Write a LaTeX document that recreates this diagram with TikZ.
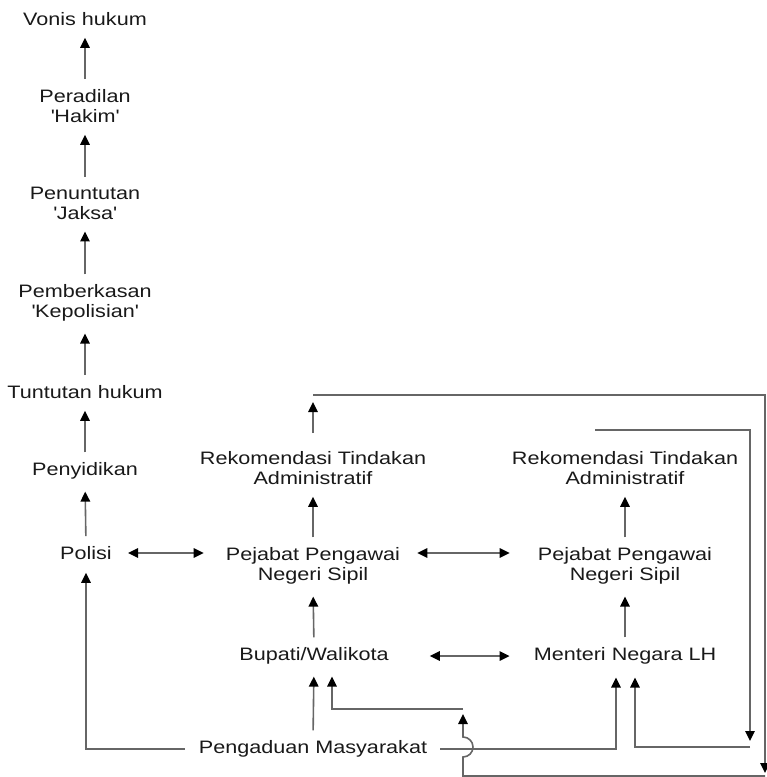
\documentclass[tikz,border=0pt]{standalone}
\usepackage{fontspec}
\setmainfont{Liberation Sans}[FakeStretch=1.2]
\usetikzlibrary{arrows.meta}

\tikzset{
  txt/.style={inner sep=0pt, align=center, text=black!90, font=\fontsize{18}{20}\selectfont},
  tip/.style={-{Triangle[length=10pt,width=9.5pt,color=black]}},
  arr/.style={draw=black!60, line width=1.6pt, tip},
  dbl/.style={arr, {Triangle[length=10pt,width=9.5pt,color=black]}-{Triangle[length=10pt,width=9.5pt,color=black]}},
}

\begin{document}
\begin{tikzpicture}[x=1pt, y=-1pt]
  \useasboundingbox (0,0) rectangle (767,777);
  \node[txt] (vonis)  at (85,19)  {Vonis hukum};
  \node[txt] (hakim)  at (85,106) {Peradilan\\\textquotesingle Hakim\textquotesingle};
  \node[txt] (jaksa)  at (85,203) {Penuntutan\\\textquotesingle Jaksa\textquotesingle};
  \node[txt] (berkas) at (85,303) {Pemberkasan\\\textquotesingle Kepolisian\textquotesingle};
  \node[txt] (tuntut) at (85,392) {Tuntutan hukum};
  \node[txt] (sidik)  at (85,471) {Penyidikan};
  \node[txt] (polisi) at (86,553) {Polisi};
  \node[txt] (rekA)   at (313,468) {Rekomendasi Tindakan\\Administratif};
  \node[txt] (ppnsA)  at (313,566) {Pejabat Pengawai\\Negeri Sipil};
  \node[txt] (bupati) at (314,656) {Bupati/Walikota};
  \node[txt] (aduan)  at (313,749) {Pengaduan Masyarakat};
  \node[txt] (rekB)   at (625,468) {Rekomendasi Tindakan\\Administratif};
  \node[txt] (ppnsB)  at (625,566) {Pejabat Pengawai\\Negeri Sipil};
  \node[txt] (menteri) at (625,656) {Menteri Negara LH};

  \coordinate (upA)   at (313,402);
  \coordinate (topL)  at (313,395);
  \coordinate (topR)  at (765,773);
  \coordinate (botR)  at (765,776);
  \coordinate (jmp)   at (463,714);
  \coordinate (jmpT)  at (463,709);
  \coordinate (recA)  at (595,430);
  \coordinate (recB)  at (750,741);
  \coordinate (recC)  at (750,747);

  \foreach \a/\b in {hakim/vonis, jaksa/hakim, berkas/jaksa, tuntut/berkas, sidik/tuntut, polisi/sidik, ppnsA/rekA, bupati/ppnsA, ppnsB/rekB, menteri/ppnsB}
    \draw[arr, shorten <=10pt, shorten >=12pt] (\a.north) -- (\b.south);

  \draw[dbl, shorten <=16pt, shorten >=22pt] (polisi.east) -- (polisi.east -| ppnsA.west);
  \draw[dbl, shorten <=17pt, shorten >=28pt] (polisi.east -| ppnsA.east) -- (polisi.east -| ppnsB.west);
  \draw[dbl, shorten <=41pt, shorten >=24pt] (bupati.east) -- (bupati.east -| menteri.west);

  \draw[arr, shorten <=14pt, shorten >=13pt] (aduan.west) -| (polisi.south);
  \draw[arr, shorten <=10pt, shorten >=12pt] (aduan.north) -- (bupati.south);
  \draw[arr, shorten <=13pt, shorten >=13pt] (aduan.east) -| ([xshift=-9pt]menteri.south);

  \draw[arr, shorten <=18pt] (rekA.north) -- (upA);
  \draw[arr] (topL) -| (topR);
  \draw[arr] (botR) -- (botR -| jmp) -- (463,757) arc[start angle=90, end angle=-90, radius=10] -- (jmp);
  \draw[arr, shorten >=12pt] (jmpT) -| ([xshift=18pt]bupati.south);

  \draw[arr] (recA) -| (recB);
  \draw[arr, shorten >=13pt] (recC) -| ([xshift=10pt]menteri.south);
\end{tikzpicture}
\end{document}
